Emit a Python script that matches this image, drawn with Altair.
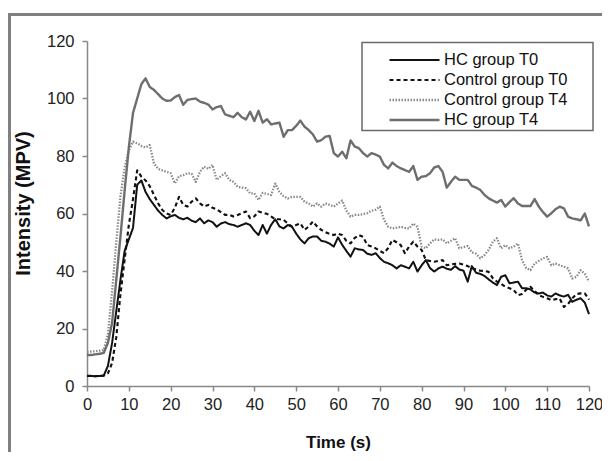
import altair as alt
import pandas as pd

# Time axis (s), 1-second sampling
time_s = list(range(0, 121))

hc_t0 = [
    3.5, 3.5, 3.4, 3.5, 3.6, 7, 15, 26, 37, 47,
    51, 55, 70, 71.5, 67.5, 65, 63, 61, 59.5, 58.3,
    59, 59.5, 58.5, 58, 58.5, 57.5, 57, 58.3, 56.6, 57.6,
    57, 55.4, 56.5, 57, 56.3, 56, 55.4, 56, 56.6, 56,
    54, 52.5, 56, 53, 56, 58, 55.5, 54.8, 56, 55.4,
    53, 51, 49.6, 51.4, 52, 52, 50.5, 50.2, 49.5, 48.5,
    51.7, 49.1, 47, 45, 47.9, 47.5, 47.3, 46, 45.6, 46.2,
    44.5, 43.2, 42.7, 42, 40.9, 42, 41.5, 40.9, 43.2, 39.8,
    42, 43.8, 41, 39.8, 40.9, 41.5, 40.8, 40.4, 41.7, 40.5,
    40.1, 36.3, 41.7, 39.4, 39, 38.3, 37.1, 36, 35.1, 38,
    38.5, 35.7, 36, 36.3, 34, 34, 33.6, 32.5, 32.2, 32.5,
    31.5, 31.1, 32.2, 31.5, 31.1, 31.7, 29.3, 30, 30.5, 29,
    25,
]

control_t0 = [
    3.5, 3.5, 3.4, 3.5, 3.6, 4.4, 8, 17, 32, 44,
    56, 65, 75, 72.8, 71.5, 69.5, 66.5, 63.5, 61.2, 60,
    59.5, 62, 65.8, 63, 62.4, 64.1, 65.3, 63.5, 62.4, 63,
    62, 61.5, 60.5, 59.5, 59.5, 59, 59.5, 60.1, 60.7, 58.4,
    59, 60.7, 60.2, 59.9, 59, 58, 58, 57.8, 56.5, 55.4,
    56, 56.6, 54.3, 55.5, 57.2, 55.5, 54.3, 53.5, 52.9, 52.5,
    53, 52.5, 50.5, 49.6, 51.5, 52.5, 51.9, 49, 48.5, 47.9,
    47, 46.2, 48, 50.8, 50, 49, 46.2, 48.5, 50.2, 48.5,
    47.3, 43.8, 43.5, 43.2, 43.5, 43.8, 42, 42.3, 42.5, 42.6,
    42.2, 41.7, 41, 40.5, 40.1, 40, 39.7, 37.5, 36.3, 35.5,
    34.5, 34, 33.4, 31.6, 32, 33.5, 34.5, 33, 31.6, 31,
    30.5, 29.9, 30.2, 30.4, 27.5, 28.5, 30.5, 32, 32.2, 32.2,
    30,
]

control_t4 = [
    11.9, 12, 12.1, 12.3, 12.5, 18, 33, 50, 66, 76,
    82, 85, 84.4, 83.5, 83, 83.8, 77.5, 75.5, 75, 74.5,
    74, 70.5, 73, 73.3, 74, 73.9, 71, 74.5, 76.3, 75.5,
    76.9, 71.7, 73, 74, 71.7, 71, 69.3, 69, 68.8, 67,
    67, 64.7, 67.2, 66.8, 66.4, 70.4, 67.5, 66, 65.2, 65.8,
    65.8, 65.8, 64.1, 63.5, 62.4, 63.5, 62.4, 63.5, 63, 62.4,
    63.5, 64.5, 61, 58.9, 59.5, 59.5, 59.8, 60.1, 61, 61.3,
    62.4, 57.8, 55.4, 54.8, 55, 55.4, 55, 54.8, 56.5, 55.4,
    48.5, 47.9, 49.6, 51, 50.8, 51, 49.6, 50.5, 51.4, 47.9,
    48.3, 48.7, 46.5, 46, 44.4, 45.5, 47.3, 50.2, 51.4, 47.9,
    49, 47.9, 48.5, 49.6, 43.8, 41, 40.3, 42.6, 43.5, 44.4,
    44.9, 42, 42.6, 42, 41.5, 40.9, 37.4, 38, 40.3, 39,
    36.3,
]

hc_t4 = [
    10.8, 10.8, 11, 11.2, 11.5, 15, 22, 37, 52, 68,
    83, 95, 100, 105, 107, 104, 103, 101.5, 100, 99.2,
    99.3, 100.5, 101.2, 97.8, 99.5, 99.8, 100, 98.9, 98.5, 97.9,
    96.2, 97, 97.4, 94.5, 94, 93.5, 95, 93.5, 92.7, 95.4,
    92.2, 95.7, 91.6, 92.8, 91, 91.3, 91.6, 86.7, 89, 89,
    90.5, 92.3, 90.2, 89, 87.5, 85, 85.5, 86.7, 87, 81,
    79.8, 81.5, 79.2, 85.4, 83.3, 82.7, 81, 79.8, 81, 80.5,
    79.8, 76.9, 75.7, 77.7, 76.5, 75.7, 75.1, 74.5, 76.5, 71.7,
    72.8, 73, 74, 76, 76.5, 74.5, 69, 71, 72.8, 71.7,
    71.7, 71.7, 69.6, 69, 68.2, 66.5, 65.3, 64.5, 63.8, 64.7,
    62.4, 64, 65.3, 63.5, 62.6, 62.6, 62.6, 65, 62.4, 60.5,
    58.9, 60.1, 61.5, 62.4, 61.8, 58.9, 58.3, 58, 57.6, 60,
    55.5,
]

series_names = ["HC group T0", "Control group T0", "Control group T4", "HC group T4"]
series_values = [hc_t0, control_t0, control_t4, hc_t4]
series_colors = ["#111111", "#111111", "#8a8a8a", "#6e6e6e"]
series_dashes = [[1, 0], [4, 3], [1.5, 1.5], [1, 0]]
series_widths = [2.0, 2.4, 1.6, 1.3]

x_ticks = list(range(0, 121, 10))
y_ticks = list(range(0, 121, 20))

rows = []
for name, vals in zip(series_names, series_values):
    for t, v in zip(time_s, vals):
        rows.append({"time": t, "value": v, "series": name})
df = pd.DataFrame(rows)

W, H = 502, 345
FONT = "Liberation Sans"

legend_opts = dict(orient="none", legendX=301, legendY=9, title=None,
                   symbolType="stroke", symbolSize=2500, symbolStrokeWidth=1.6,
                   clipHeight=20, rowPadding=0, padding=0, labelOffset=3,
                   labelFont=FONT, labelFontSize=16.5, labelColor="#111111")

lines = alt.Chart(df).mark_line(strokeJoin="round").encode(
    x=alt.X("time:Q", scale=alt.Scale(domain=[0, 120], nice=False),
            axis=alt.Axis(values=x_ticks, title="Time (s)", titlePadding=22,
                          labelPadding=5, titleFontSize=17, labelFlush=False)),
    y=alt.Y("value:Q", scale=alt.Scale(domain=[0, 120], nice=False),
            axis=alt.Axis(values=y_ticks, title="Intensity (MPV)", titlePadding=13,
                          labelPadding=8, titleFontSize=20, labelFlush=False,
                          titleY=162)),
    color=alt.Color("series:N", scale=alt.Scale(domain=series_names, range=series_colors),
                    legend=alt.Legend(**legend_opts)),
    strokeDash=alt.StrokeDash("series:N", scale=alt.Scale(domain=series_names, range=series_dashes),
                              legend=alt.Legend(**legend_opts)),
    strokeWidth=alt.StrokeWidth("series:N", scale=alt.Scale(domain=series_names, range=series_widths),
                                legend=None),
    order=alt.Order("time:Q"),
)

deco = pd.DataFrame({"k": [0]})
frame = alt.Chart(deco).mark_rect(fillOpacity=0, stroke="#808080", strokeWidth=3).encode(
    x=alt.value(-77.5), x2=alt.value(W + 200), y=alt.value(-26.5), y2=alt.value(H + 200))
legend_box = alt.Chart(deco).mark_rect(fillOpacity=0, stroke="#6a6a6a", strokeWidth=1.5).encode(
    x=alt.value(275), x2=alt.value(506), y=alt.value(1.5), y2=alt.value(89.5))

chart = alt.layer(frame, legend_box, lines).properties(
    width=W, height=H,
    padding={"left": 79, "top": 33, "right": 13, "bottom": 66},
    autosize=alt.AutoSizeParams(type="none"),
    background="white",
).configure_view(stroke=None).configure_axis(
    grid=False, domainColor="#888888", domainWidth=1.5, tickColor="#888888", tickWidth=1.5,
    tickSize=5, labelFont=FONT, labelFontSize=16.5, labelColor="#222222",
    titleFont=FONT, titleFontWeight="bold", titleColor="#111111",
)

chart.save("out.html", embed_options={"renderer": "svg", "actions": False})
